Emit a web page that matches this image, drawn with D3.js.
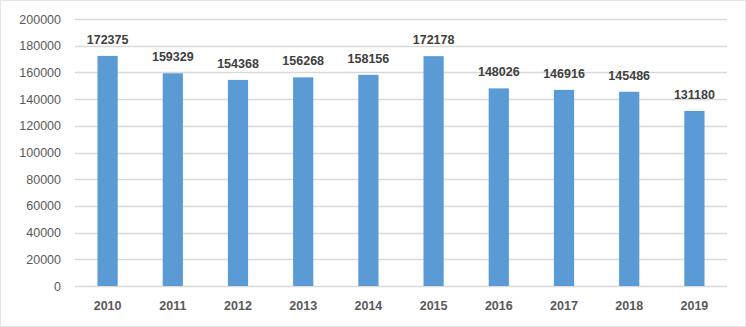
<!DOCTYPE html>
<meta charset="utf-8">
<html lang="en">
<head>
	<title>Bar chart</title>
	<script src="https://d3js.org/d3.v7.min.js"></script>
	<style>
		body { margin: 0; background: #fff; }
		text { font-family: "Liberation Sans", Arial, sans-serif; }
	</style>
</head>
<body>
	<script>
		var years = ["2010", "2011", "2012", "2013", "2014", "2015", "2016", "2017", "2018", "2019"];
		var values = [172375, 159329, 154368, 156268, 158156, 172178, 148026, 146916, 145486, 131180];
		var yTicks = [0, 20000, 40000, 60000, 80000, 100000, 120000, 140000, 160000, 180000, 200000];

		var width = 746,
		    height = 327;

		var svg = d3.select("body").append("svg")
		    .attr("width", width)
		    .attr("height", height);

		// faint frame round the chart
		svg.append("rect")
		    .attr("x", 0.5).attr("y", 0.5)
		    .attr("width", width - 1).attr("height", height - 1)
		    .style("fill", "white")
		    .style("stroke", "#e6e6e6");

		var x = d3.scaleBand()
		    .domain(years)
		    .range([75, 727])
		    .paddingInner(0.69)
		    .paddingOuter(0.345);

		var y = d3.scaleLinear()
		    .domain([0, 200000])
		    .range([286, 19]);

		// gridlines
		svg.append("g")
		  .selectAll("line")
		    .data(yTicks)
		  .enter().append("line")
		    .attr("x1", 75).attr("x2", 727)
		    .attr("y1", function(d) { return Math.round(y(d)) + 0.5; })
		    .attr("y2", function(d) { return Math.round(y(d)) + 0.5; })
		    .style("stroke", "#d9d9d9")
		    .style("stroke-width", 1.5);

		var yAxis = svg.append("g")
		    .attr("transform", "translate(61,0)")
		    .call(d3.axisLeft(y).tickValues(yTicks).tickSize(0).tickPadding(0).tickFormat(d3.format("d")));
		yAxis.select(".domain").remove();
		yAxis.selectAll("text")
		    .style("font-size", "12.5px")
		    .style("fill", "#595959");

		var xAxis = svg.append("g")
		    .attr("transform", "translate(0,298)")
		    .call(d3.axisBottom(x).tickSize(0).tickPadding(3));
		xAxis.select(".domain").remove();
		xAxis.selectAll("text")
		    .style("font-size", "12.5px")
		    .style("font-weight", "bold")
		    .style("fill", "#595959");

		svg.append("g")
		  .selectAll("rect")
		    .data(values)
		  .enter().append("rect")
		    .attr("x", function(d, i) { return x(years[i]); })
		    .attr("y", function(d) { return y(d); })
		    .attr("width", x.bandwidth())
		    .attr("height", function(d) { return y(0) - y(d); })
		    .style("fill", "#5b9bd5");

		svg.append("g")
		  .selectAll("text")
		    .data(values)
		  .enter().append("text")
		    .attr("x", function(d, i) { return x(years[i]) + x.bandwidth() / 2; })
		    .attr("y", function(d) { return y(d) - 12; })
		    .attr("text-anchor", "middle")
		    .style("font-size", "12.5px")
		    .style("font-weight", "bold")
		    .style("fill", "#404040")
		    .text(function(d) { return d; });
	</script>
</body>
</html>
